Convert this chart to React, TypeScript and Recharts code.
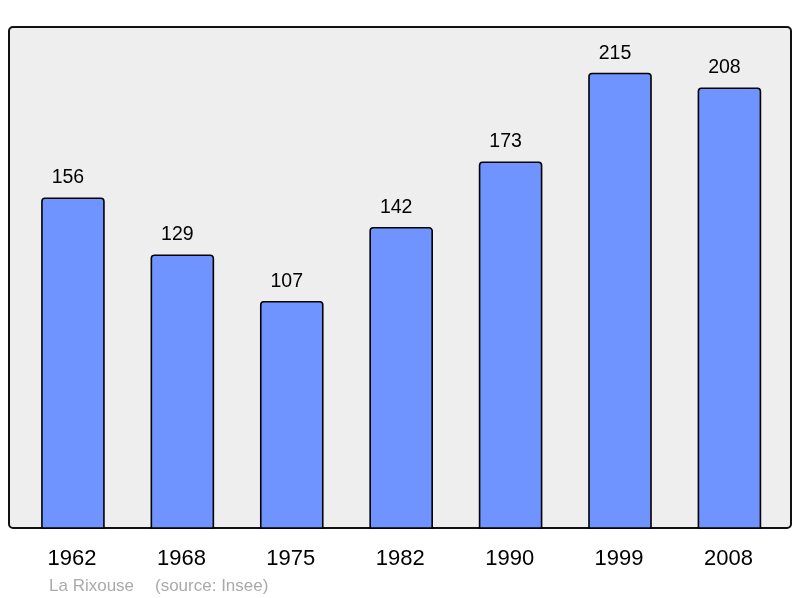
import React from "react";
import { BarChart, Bar, XAxis, YAxis, LabelList } from "recharts";

const years = ["1962", "1968", "1975", "1982", "1990", "1999", "2008"];
const population = [156, 129, 107, 142, 173, 215, 208];
const title = "La Rixouse";
const source = "(source: Insee)";

const data = years.map((y, i) => ({ year: y, value: population[i] }));

const Tick = (props: any) => {
  const { x, y, payload } = props;
  return (
    <text x={x - 1} y={y + 29} textAnchor="middle" fontSize={22} fill="#000" fontFamily="'Liberation Sans', Arial, sans-serif">
      {payload.value}
    </text>
  );
};

const TopLabel = (props: any) => {
  const { x, y, width, value } = props;
  return (
    <text x={x + width / 2 - 5} y={y - 15} textAnchor="middle" fontSize={19.5} fill="#000" fontFamily="'Liberation Sans', Arial, sans-serif">
      {value}
    </text>
  );
};

export default function App() {
  return (
    <div style={{ position: "fixed", left: 0, top: 0, width: 800, height: 598, fontFamily: "'Liberation Sans', Arial, sans-serif" }}>
      <div
        style={{
          position: "absolute",
          left: 8,
          top: 26,
          width: 784,
          height: 503,
          boxSizing: "border-box",
          border: "2px solid #111",
          borderRadius: 5,
          background: "#eeeeee",
        }}
      />
      <div style={{ position: "absolute", left: 0, top: 0 }}>
        <BarChart
          width={800}
          height={598}
          data={data}
          margin={{ top: 27, right: 9, left: 9, bottom: 0 }}
          barCategoryGap="21.6%"
        >
          <XAxis
            dataKey="year"
            axisLine={false}
            tickLine={false}
            tick={<Tick />}
            interval={0}
            height={70}
            padding={{ left: 9.3, right: 6.8 }}
          />
          <YAxis hide domain={[0, 237]} />
          <Bar
            dataKey="value"
            fill="#7094ff"
            stroke="#000"
            strokeWidth={1.6}
            radius={[3, 3, 0, 0]}
            isAnimationActive={false}
          >
            <LabelList dataKey="value" content={<TopLabel />} />
          </Bar>
        </BarChart>
      </div>
      <svg width={800} height={598} style={{ position: "absolute", left: 0, top: 0, pointerEvents: "none" }}>
        <text x={49} y={590.5} fontSize={17} fill="#aaaaaa" fontFamily="'Liberation Sans', Arial, sans-serif">
          {title}
        </text>
        <text x={155} y={590.5} fontSize={17} fill="#aaaaaa" fontFamily="'Liberation Sans', Arial, sans-serif">
          {source}
        </text>
      </svg>
    </div>
  );
}
